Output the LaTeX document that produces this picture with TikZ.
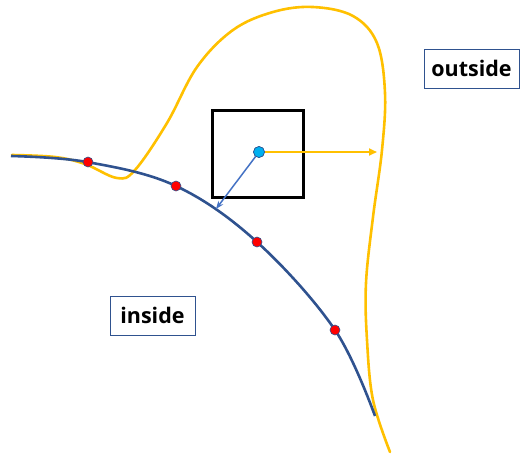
\documentclass[tikz,border=0pt]{standalone}
\usepackage{fontspec}
\setmainfont{Open Sans}
\usetikzlibrary{arrows.meta}
\definecolor{darkblue}{HTML}{2F528F}
\definecolor{gold}{HTML}{FFC000}
\definecolor{midblue}{HTML}{4472C4}
\definecolor{skyblue}{HTML}{00B0F0}
\tikzset{
  reddot/.style={circle, fill=red, draw=darkblue, line width=0.6pt, inner sep=0pt, minimum size=10pt},
  centerdot/.style={circle, fill=skyblue, draw=darkblue, line width=0.6pt, inner sep=0pt, minimum size=11pt},
  labelbox/.style={draw=darkblue, line width=0.8pt, fill=white, font=\bfseries\fontsize{21.5}{24}\selectfont, inner sep=0pt, anchor=center},
}
\begin{document}
\begin{tikzpicture}[x=1pt, y=-1pt]
\useasboundingbox (0,0) rectangle (520,456);
% yellow boundary curve
\draw[gold, line width=2.6pt, line cap=round] plot[smooth, tension=0.6] coordinates {
 (12,155) (55,157) (85,164) (117,178) (135,170) (167,123) (197,67) (233,30) (273,12) (313,7) (353,16) (377,43) (385,93) (382,150) (373,217) (366,283) (367,340) (373,400) (390,452)};
% blue curve
\draw[darkblue, line width=2.6pt] plot[smooth, tension=0.6] coordinates {
 (11,156) (87,162) (176,186) (257,242) (335,330) (375,416)};
% square
\node[draw=black, line width=2.4pt, minimum width=91pt, minimum height=87pt, inner sep=0pt] (sq) at (258,154) {};
% points
\node[centerdot] (c) at (259,152) {};
\coordinate (yend) at (377,152);
\coordinate (bend) at (216,209);
\draw[gold, line width=1.8pt, -{Triangle[length=8pt,width=7pt]}] (c) -- (yend);
\draw[midblue, line width=1.5pt, -{Stealth[length=8pt,width=6pt]}] (c) -- (bend);
\node[centerdot] at (259,152) {};
\node[reddot] (r1) at (88,162) {};
\node[reddot] (r2) at (176,186) {};
\node[reddot] (r3) at (257,242) {};
\node[reddot] (r4) at (335,330) {};
% labels
\node[labelbox, minimum width=95pt, minimum height=39pt] (out) at (471.5,68.5) {outside};
\node[labelbox, minimum width=85pt, minimum height=39pt] (in) at (152.5,315.5) {inside};
\end{tikzpicture}
\end{document}
